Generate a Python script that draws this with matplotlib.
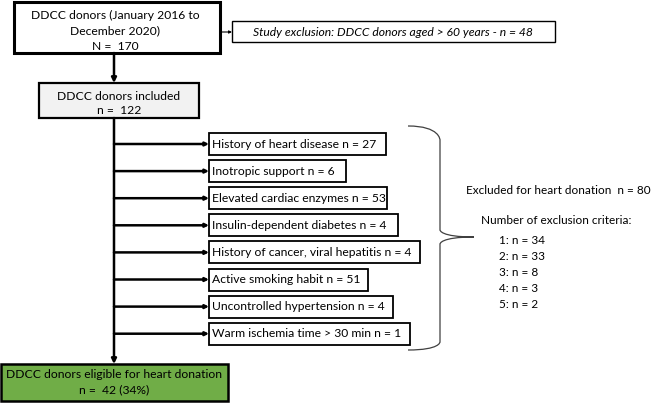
import matplotlib.pyplot as plt
from matplotlib.patches import Rectangle
from matplotlib.path import Path
from matplotlib.patches import PathPatch

plt.rcParams['font.family'] = ['Lato', 'DejaVu Sans']

# flow data
total_n = 170
excluded_age_n = 48
included_n = 122
eligible_n = 42
eligible_pct = 34

criteria = ['History of heart disease', 'Inotropic support', 'Elevated cardiac enzymes',
            'Insulin-dependent diabetes', 'History of cancer, viral hepatitis',
            'Active smoking habit', 'Uncontrolled hypertension', 'Warm ischemia time > 30 min n']
criteria_n = [27, 6, 53, 4, 4, 51, 4, 1]
box_right = [386, 346, 387, 398, 420, 368, 393, 410]

excluded_heart_n = 80
n_criteria = [1, 2, 3, 4, 5]
n_criteria_count = [34, 33, 8, 3, 2]

fig = plt.figure(figsize=(6.54, 4.03), dpi=100)
ax = fig.add_axes([0, 0, 1, 1])
ax.set_xlim(0, 654)
ax.set_ylim(403, 0)
ax.axis('off')

FS = 8.7


def box(x0, y0, x1, y1, lw=1.2, fc='white'):
    ax.add_patch(Rectangle((x0, y0), x1 - x0, y1 - y0, fc=fc, ec='black', lw=lw))


def arrow(x0, y0, x1, y1, lw=1.8, ms=6):
    ax.annotate('', xy=(x1, y1), xytext=(x0, y0),
                arrowprops=dict(arrowstyle='-|>', lw=lw, color='black',
                                mutation_scale=ms, shrinkA=0, shrinkB=0))


# top box
box(14, 2, 220, 53, lw=2.2)
ax.text(115, 15, 'DDCC donors (January 2016 to', ha='center', va='center', fontsize=FS)
ax.text(115, 31, 'December 2020)', ha='center', va='center', fontsize=FS)
ax.text(115, 46, 'N =  %d' % total_n, ha='center', va='center', fontsize=FS)

# study exclusion
box(232, 21, 555, 42, lw=1.0)
arrow(220, 32, 232, 32, lw=0.8, ms=4)
ax.text(393, 32, 'Study exclusion: DDCC donors aged > 60 years - n = %d' % excluded_age_n,
        ha='center', va='center', fontsize=FS, style='italic')

# included
arrow(114, 53, 114, 83, lw=1.8, ms=7)
box(39, 83, 199, 118, lw=1.6, fc='#f2f2f2')
ax.text(119, 96, 'DDCC donors included', ha='center', va='center', fontsize=FS)
ax.text(119, 110, 'n =  %d' % included_n, ha='center', va='center', fontsize=FS)

# main trunk
arrow(114, 118, 114, 364, lw=1.8, ms=7)

# criteria boxes
for i, (lab, n, xr) in enumerate(zip(criteria, criteria_n, box_right)):
    yc = 144 + i * 27.1
    if lab.endswith(' n'):
        txt = '%s = %d' % (lab, n)
    else:
        txt = '%s n = %d' % (lab, n)
    box(209, yc - 11, xr, yc + 11, lw=1.3)
    arrow(114, yc, 209, yc, lw=1.8, ms=5)
    ax.text(212, yc, txt, ha='left', va='center', fontsize=FS)

# brace
verts = [(408, 126), (440, 126), (440, 140), (440, 140),
         (440, 230), (440, 230), (440, 237), (474, 237),
         (440, 237), (440, 244), (440, 244),
         (440, 342), (440, 342), (440, 350), (408, 350)]
codes = [Path.MOVETO, Path.CURVE4, Path.CURVE4, Path.CURVE4,
         Path.LINETO, Path.CURVE4, Path.CURVE4, Path.CURVE4,
         Path.CURVE4, Path.CURVE4, Path.CURVE4,
         Path.LINETO, Path.CURVE4, Path.CURVE4, Path.CURVE4]
ax.add_patch(PathPatch(Path(verts, codes), fc='none', ec='#404040', lw=0.9))

# right side text
ax.text(466, 190, 'Excluded for heart donation  n = %d' % excluded_heart_n,
        ha='left', va='center', fontsize=8.5)
ax.text(481, 220, 'Number of exclusion criteria:', ha='left', va='center', fontsize=8.5)
for i, (k, c) in enumerate(zip(n_criteria, n_criteria_count)):
    ax.text(499, 241 + i * 16, '%d: n = %d' % (k, c), ha='left', va='center', fontsize=8.5)

# eligible
box(1, 364, 228, 401, lw=1.8, fc='#70ad47')
ax.text(114, 375, 'DDCC donors eligible for heart donation', ha='center', va='center', fontsize=FS)
ax.text(114, 390, 'n =  %d (%d%%)' % (eligible_n, eligible_pct), ha='center', va='center', fontsize=FS)

fig.savefig('out.png', dpi=100)
